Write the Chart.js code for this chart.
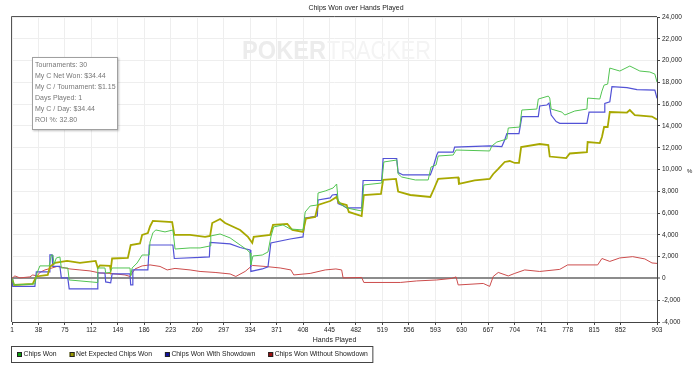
<!DOCTYPE html>
<html>
<head>
<meta charset="utf-8">
<script src="https://cdn.jsdelivr.net/npm/chart.js@4"></script>
<style>
  html, body { margin: 0; padding: 0; background: #fff; }
  canvas { display: block; }
</style>
</head>
<body>
<canvas id="chart" width="700" height="369"></canvas>
<script>
// Chips Won over Hands Played — cumulative tracker graph.

const FONT = "'Liberation Sans', Arial, sans-serif";

// --- Data -------------------------------------------------------------------

const X_TICKS = [1, 38, 75, 112, 149, 186, 223, 260, 297, 334, 371, 408, 445,
  482, 519, 556, 593, 630, 667, 704, 741, 778, 815, 852, 903];

const chipsWonHands = [1, 4, 33, 36, 40, 53, 56, 58, 60, 63, 68, 70, 79, 81, 120, 121, 131, 132, 138, 141,
  166, 167, 169, 176, 183, 193, 194, 198, 202, 215, 226, 229, 250, 264, 278, 279, 292, 306, 320, 330,
  334, 335, 338, 351, 359, 363, 367, 380, 390, 408, 411, 418, 428, 429, 439, 450, 455, 457, 462, 469,
  490, 493, 518, 521, 539, 541, 546, 565, 583, 587, 594, 597, 618, 622, 669, 672, 679, 693, 695, 711,
  714, 735, 737, 751, 753, 755, 770, 774, 788, 805, 806, 823, 826, 829, 834, 837, 851, 865, 879, 893,
  900, 903];
const chipsWonValues = [0, -600, -500, 500, 1150, 1150, 2150, 2150, 1330, 1880, 1970, 960, 960, -140, -370, 960, 960, 500, 550, 960,
  960, 230, 960, 1420, 2150, 2150, 3350, 4180, 4450, 4270, 4450, 2700, 2800, 2800, 2980, 3900, 4080, 3720, 3070, 2610,
  2340, 1240, 2060, 2150, 2430, 3810, 4730, 4910, 4540, 4450, 6100, 6650, 6740, 7840, 8030, 8300, 8670, 7200, 6740, 6470,
  6190, 8580, 8760, 10690, 10870, 9590, 9310, 9040, 9040, 10230, 10410, 11240, 11330, 11790, 11700, 12160, 12520, 12800, 13810, 13900,
  15460, 15550, 16470, 16740, 16560, 15550, 15270, 15000, 15370, 15550, 16560, 16470, 17200, 17750, 17840, 19310, 19040, 19500, 19040, 18950,
  18760, 18030];

const netExpectedHands = [1, 4, 30, 35, 51, 54, 61, 78, 96, 118, 121, 124, 138, 139, 141, 163, 167, 180, 183, 191,
  194, 198, 225, 228, 250, 271, 278, 281, 292, 299, 320, 331, 337, 339, 362, 366, 386, 393, 408, 412,
  425, 429, 446, 455, 458, 469, 472, 490, 493, 517, 520, 538, 541, 558, 586, 591, 597, 625, 626, 648,
  669, 674, 681, 690, 697, 704, 710, 713, 739, 751, 753, 776, 781, 805, 806, 823, 826, 829, 834, 837,
  861, 865, 872, 896, 903];
const netExpectedValues = [0, -600, -500, 180, 320, 1060, 1420, 1610, 1420, 1610, 960, 1190, 1150, 780, 1830, 1880, 3070, 3210, 3990, 4170,
  4770, 5280, 5180, 3990, 3990, 3810, 3900, 5090, 5460, 5090, 4450, 3810, 3260, 3810, 3990, 4910, 5000, 4450, 4270, 5500,
  5640, 6740, 7110, 7480, 6930, 6740, 6100, 5730, 7660, 7750, 9040, 9130, 7980, 7660, 7480, 8210, 9130, 9270, 8670, 9000,
  9130, 9590, 10050, 10690, 10780, 10600, 10600, 12060, 12340, 12250, 11190, 11050, 11470, 11600, 12520, 12430, 12980, 13900, 13900, 15280,
  15230, 15460, 15000, 14860, 14590];

const showdownHands = [1, 2, 33, 35, 53, 54, 57, 58, 68, 70, 79, 81, 120, 121, 131, 132, 139, 141, 166, 167,
  169, 170, 191, 193, 226, 228, 264, 277, 278, 306, 320, 334, 335, 351, 359, 363, 390, 408, 411, 428,
  429, 446, 449, 455, 457, 465, 469, 490, 492, 518, 520, 539, 541, 548, 586, 590, 595, 597, 618, 620,
  669, 686, 690, 693, 710, 714, 737, 739, 749, 752, 755, 762, 767, 805, 808, 829, 830, 837, 840, 861,
  875, 900, 903];
const showdownValues = [0, -730, -730, 600, 600, 2160, 2160, 1100, 1100, 50, 50, -960, -960, 500, 500, -320, -410, 410, 410, -600,
  -600, 780, 780, 3070, 3070, 1830, 1930, 1970, 3300, 3170, 2840, 2610, 640, 870, 1060, 3260, 3620, 3810, 5550, 5730,
  7200, 7390, 7660, 7710, 6880, 6650, 6470, 6470, 8990, 8990, 11010, 11010, 9720, 9500, 9500, 10230, 11330, 11600, 11600, 12060,
  12160, 12110, 12710, 13300, 13300, 14860, 14860, 15830, 15920, 16100, 15000, 14400, 14240, 14240, 15270, 15270, 16070, 16220, 17610, 17520,
  17340, 17290, 16530];

const noShowdownHands = [1, 5, 12, 26, 30, 36, 40, 47, 57, 64, 72, 82, 96, 110, 124, 138, 159, 166, 173, 183,
  194, 208, 218, 229, 250, 264, 285, 306, 314, 327, 337, 355, 376, 391, 395, 418, 439, 454, 462, 464,
  490, 493, 544, 567, 595, 616, 622, 625, 660, 669, 674, 681, 695, 704, 718, 739, 767, 778, 820, 826,
  837, 851, 869, 886, 896, 903];
const noShowdownValues = [0, 230, 50, 140, 320, 230, 550, 780, 960, 1100, 1010, 870, 780, 690, 500, 460, 320, 180, 870, 1150,
  1240, 1100, 780, 920, 780, 640, 550, 410, 180, 640, 1190, 1100, 960, 780, 320, 460, 780, 870, 780, 50,
  90, -370, -370, -230, -140, 0, 140, -600, -460, -730, 180, 550, 230, 460, 780, 640, 830, 1240, 1240, 1830,
  1560, 1880, 2000, 1790, 1420, 1380];

const SERIES_LABELS = ['Chips Won', 'Net Expected Chips Won', 'Chips Won With Showdown', 'Chips Won Without Showdown'];
const LINE_COLORS = ['#52c452', '#a8a800', '#5252d6', '#cc4c4c'];
const LEGEND_FILLS = ['#11a011', '#9c9c00', '#1010a0', '#a01010'];

const statsLines = [
  'Tournaments: 30',
  'My C Net Won: $34.44',
  'My C / Tournament: $1.15',
  'Days Played: 1',
  'My C / Day: $34.44',
  'ROI %: 32.80',
];

// --- Helpers ----------------------------------------------------------------

function toPoints(hands, values) {
  return hands.map((h, i) => ({ x: h, y: values[i] }));
}

function makeDataset(i, hands, values, width) {
  return {
    label: SERIES_LABELS[i],
    data: toPoints(hands, values),
    borderColor: LINE_COLORS[i],
    backgroundColor: LINE_COLORS[i],
    borderWidth: width,
    pointRadius: 0,
    tension: 0,
  };
}

// --- Plugins ----------------------------------------------------------------

const watermark = {
  id: 'watermark',
  beforeDatasetsDraw(chart) {
    const { ctx } = chart;
    ctx.save();
    ctx.textBaseline = 'alphabetic';
    ctx.fillStyle = '#ececec';
    ctx.font = `bold 26px ${FONT}`;
    ctx.fillText('POKER', 242, 59, 84);
    ctx.fillStyle = '#f4f4f4';
    ctx.font = `26px ${FONT}`;
    ctx.fillText('TRACKER', 327, 59, 104);
    ctx.restore();
  },
};

const frame = {
  id: 'frame',
  afterDatasetsDraw(chart) {
    const { ctx, chartArea: a } = chart;
    ctx.save();
    ctx.strokeStyle = '#555';
    ctx.lineWidth = 1;
    ctx.beginPath();
    ctx.moveTo(a.left - 0.5, a.bottom);
    ctx.lineTo(a.left - 0.5, a.top - 0.5);
    ctx.lineTo(a.right, a.top - 0.5);
    ctx.stroke();
    ctx.restore();
  },
};

const statsBox = {
  id: 'statsBox',
  afterDraw(chart) {
    const { ctx } = chart;
    ctx.save();
    ctx.shadowColor = 'rgba(0,0,0,0.25)';
    ctx.shadowOffsetX = 1;
    ctx.shadowOffsetY = 1;
    ctx.shadowBlur = 2;
    ctx.fillStyle = '#fff';
    ctx.fillRect(32, 57, 86, 73);
    ctx.shadowColor = 'transparent';
    ctx.strokeStyle = '#a0a0a0';
    ctx.strokeRect(32.5, 57.5, 85, 72);
    ctx.fillStyle = '#777';
    ctx.font = `7px ${FONT}`;
    ctx.textBaseline = 'middle';
    statsLines.forEach((line, i) => ctx.fillText(line, 35, 65 + i * 11));
    ctx.restore();
  },
};

const legendBox = {
  id: 'legendBox',
  afterDraw(chart) {
    const { ctx } = chart;
    ctx.save();
    ctx.font = `6.8px ${FONT}`;
    ctx.textBaseline = 'middle';
    const cy = 354.5;
    let x = 17;
    let end = x;
    chart.data.datasets.forEach((ds, i) => {
      ctx.fillStyle = LEGEND_FILLS[i];
      ctx.fillRect(x, cy - 2.5, 5, 5);
      ctx.strokeStyle = '#222';
      ctx.lineWidth = 1;
      ctx.strokeRect(x + 0.5, cy - 2, 4, 4);
      ctx.fillStyle = '#222';
      ctx.fillText(ds.label, x + 6.5, cy);
      end = x + 6.5 + ctx.measureText(ds.label).width;
      x = end + 13;
    });
    ctx.strokeStyle = '#444';
    ctx.strokeRect(11.5, 346.5, end + 5 - 11.5, 16);
    ctx.restore();
  },
};

const unitLabel = {
  id: 'unitLabel',
  afterDraw(chart) {
    const { ctx } = chart;
    ctx.save();
    ctx.fillStyle = '#222';
    ctx.font = `6px ${FONT}`;
    ctx.textBaseline = 'middle';
    ctx.fillText('%', 687, 171);
    ctx.restore();
  },
};

// --- Chart ------------------------------------------------------------------

Chart.defaults.font.family = FONT;
Chart.defaults.color = '#222';

new Chart(document.getElementById('chart'), {
  type: 'line',
  data: {
    datasets: [
      makeDataset(0, chipsWonHands, chipsWonValues, 1),
      makeDataset(1, netExpectedHands, netExpectedValues, 1.8),
      makeDataset(2, showdownHands, showdownValues, 1.2),
      makeDataset(3, noShowdownHands, noShowdownValues, 1),
    ],
  },
  options: {
    responsive: false,
    animation: false,
    devicePixelRatio: 1,
    layout: { padding: { left: 12, right: 0, top: 0, bottom: 0 } },
    plugins: {
      legend: { display: false },
      tooltip: { enabled: false },
      title: {
        display: true,
        text: 'Chips Won over Hands Played',
        color: '#222',
        font: { size: 7, weight: 'normal' },
        padding: { top: 4, bottom: 4.6 },
      },
    },
    scales: {
      x: {
        type: 'linear',
        min: 1,
        max: 903,
        afterBuildTicks: s => { s.ticks = X_TICKS.map(v => ({ value: v })); },
        afterFit: s => { s.height = 47; },
        ticks: {
          autoSkip: false,
          maxRotation: 0,
          padding: 1,
          font: { size: 6.5 },
          callback: v => String(v),
        },
        grid: { color: '#eeeeee', tickColor: '#444', tickLength: 3 },
        border: { color: '#444' },
        title: {
          display: true,
          text: 'Hands Played',
          font: { size: 7 },
          padding: { top: 0, bottom: 25 },
        },
      },
      y: {
        position: 'right',
        min: -4000,
        max: 24000,
        afterFit: s => { s.width = 43; },
        ticks: {
          stepSize: 2000,
          padding: 2,
          font: { size: 6.5 },
          callback: v => v.toLocaleString('en-US'),
        },
        grid: {
          color: c => (c.tick && c.tick.value === 0 ? '#8c8c8c' : '#eeeeee'),
          lineWidth: c => (c.tick && c.tick.value === 0 ? 2 : 1),
          tickColor: '#444',
          tickWidth: 1,
          tickLength: 3,
        },
        border: { color: '#444' },
      },
    },
  },
  plugins: [watermark, frame, statsBox, legendBox, unitLabel],
});
</script>
</body>
</html>
